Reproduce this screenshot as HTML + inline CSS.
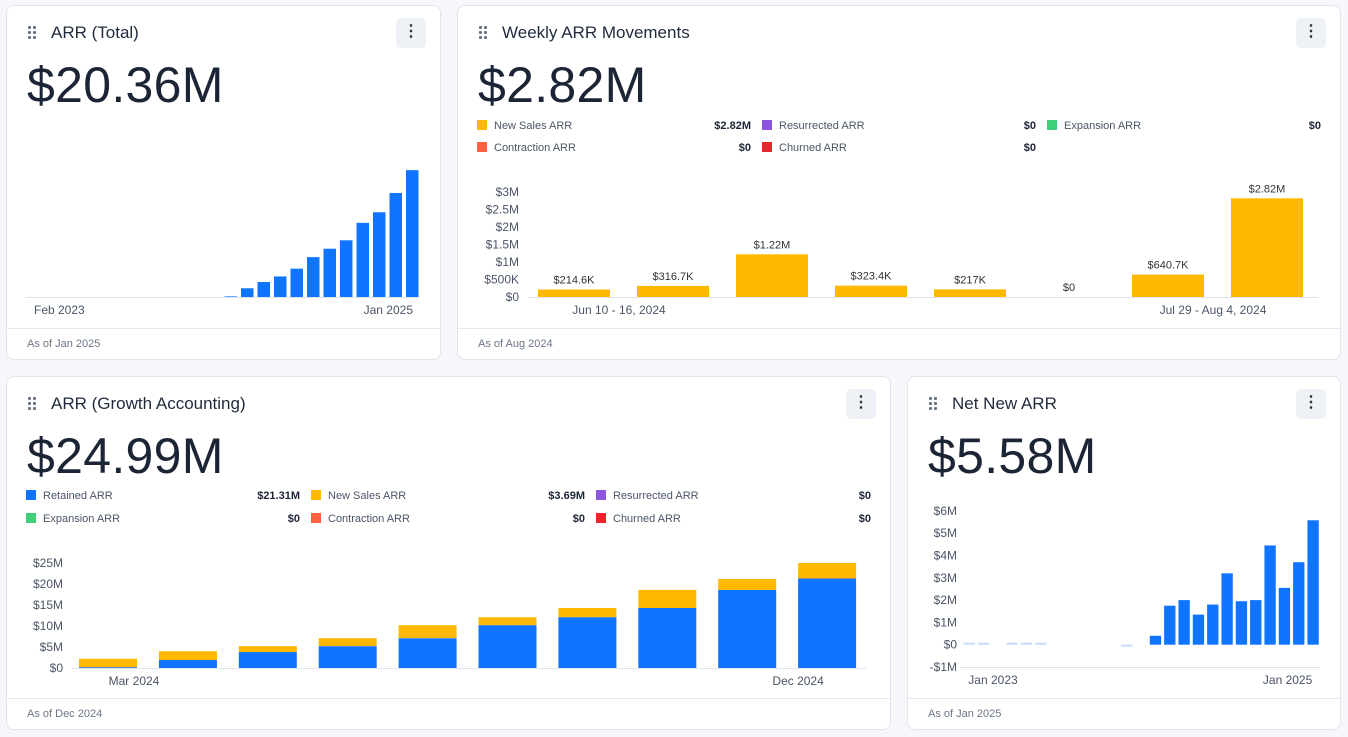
<!DOCTYPE html>
<html><head><meta charset="utf-8">
<style>
body{margin:0;width:1348px;height:737px;background:#f5f7fa;font-family:"Liberation Sans",sans-serif;color:#1c2536;position:relative;overflow:hidden}
.card{position:absolute;background:#fff;border:1px solid #e1e5ea;border-radius:8px;box-sizing:border-box}
.title{position:absolute;left:44px;top:17px;font-size:17px;color:#1f2a3c}
.grip{position:absolute;left:20px;top:19px;width:10px;height:14px;background:radial-gradient(circle,#6b7686 1.5px,transparent 1.8px) 0 0/5px 5px}
.big{position:absolute;left:20px;top:50px;font-size:50px;color:#1c2536;letter-spacing:0.3px}
.menu{position:absolute;top:12px;width:30px;height:30px;background:#eef1f5;border-radius:5px;text-align:center;line-height:28px;font-size:16px;font-weight:bold;color:#333}
.foot{position:absolute;left:0;right:0;bottom:0;height:31px;border-top:1px solid #e5e8ec;font-size:11px;color:#6b7686;padding:9px 0 0 20px;box-sizing:border-box}
.leg{position:absolute;font-size:11px;color:#4a5566}
.leg i{display:inline-block;width:10px;height:10px;margin-right:7px;vertical-align:-1px}
.lv{position:absolute;font-size:11px;font-weight:bold;color:#1c2536;text-align:right;width:60px}
svg{position:absolute;left:0;top:0}
svg text{font-family:"Liberation Sans",sans-serif;font-size:12px;fill:#4a5566}
</style></head><body>
<div class="card" style="left:6px;top:5px;width:435px;height:355px">
<div class="grip"></div><div class="title">ARR (Total)</div>
<div class="menu" style="left:389px">⋮</div>
<div class="big">$20.36M</div>
<div class="foot">As of Jan 2025</div></div>

<div class="card" style="left:457px;top:5px;width:884px;height:355px">
<div class="grip"></div><div class="title">Weekly ARR Movements</div>
<div class="menu" style="left:838px">⋮</div>
<div class="big">$2.82M</div>
<div class="leg" style="left:19px;top:114px"><i style="background:#ffb800"></i>New Sales ARR</div><div class="lv" style="left:233px;top:114px">$2.82M</div>
<div class="leg" style="left:304px;top:114px"><i style="background:#8b55e0"></i>Resurrected ARR</div><div class="lv" style="left:518px;top:114px">$0</div>
<div class="leg" style="left:589px;top:114px"><i style="background:#3fd07a"></i>Expansion ARR</div><div class="lv" style="left:803px;top:114px">$0</div>
<div class="leg" style="left:19px;top:136px"><i style="background:#ff6240"></i>Contraction ARR</div><div class="lv" style="left:233px;top:136px">$0</div>
<div class="leg" style="left:304px;top:136px"><i style="background:#e8262b"></i>Churned ARR</div><div class="lv" style="left:518px;top:136px">$0</div>
<div class="foot">As of Aug 2024</div></div>

<div class="card" style="left:6px;top:376px;width:885px;height:354px">
<div class="grip"></div><div class="title">ARR (Growth Accounting)</div>
<div class="menu" style="left:839px">⋮</div>
<div class="big">$24.99M</div>
<div class="leg" style="left:19px;top:113px"><i style="background:#0f74ff"></i>Retained ARR</div><div class="lv" style="left:233px;top:113px">$21.31M</div>
<div class="leg" style="left:304px;top:113px"><i style="background:#ffb800"></i>New Sales ARR</div><div class="lv" style="left:518px;top:113px">$3.69M</div>
<div class="leg" style="left:589px;top:113px"><i style="background:#8b55e0"></i>Resurrected ARR</div><div class="lv" style="left:804px;top:113px">$0</div>
<div class="leg" style="left:19px;top:136px"><i style="background:#3fd07a"></i>Expansion ARR</div><div class="lv" style="left:233px;top:136px">$0</div>
<div class="leg" style="left:304px;top:136px"><i style="background:#ff6240"></i>Contraction ARR</div><div class="lv" style="left:518px;top:136px">$0</div>
<div class="leg" style="left:589px;top:136px"><i style="background:#e8262b"></i>Churned ARR</div><div class="lv" style="left:804px;top:136px">$0</div>
<div class="foot">As of Dec 2024</div></div>

<div class="card" style="left:907px;top:376px;width:434px;height:354px">
<div class="grip"></div><div class="title">Net New ARR</div>
<div class="menu" style="left:388px">⋮</div>
<div class="big">$5.58M</div>
<div class="foot">As of Jan 2025</div></div>

<svg id="ch" width="1348" height="737"></svg>
<script>
// ARR total (monthly, Feb 2023 - Jan 2025)
const totalVals=[0,0,0,0,0,0,0,0,0,0,0,0,0.1,1.4,2.4,3.3,4.55,6.4,7.75,9.1,11.9,13.6,16.7,20.36];
const totalTicks=["Feb 2023","Jan 2025"];
// Weekly movements
const weekVals=[0.2146,0.3167,1.22,0.3234,0.217,0,0.6407,2.82];
const weekLabels=["$214.6K","$316.7K","$1.22M","$323.4K","$217K","$0","$640.7K","$2.82M"];
const weekTicks=["$0","$500K","$1M","$1.5M","$2M","$2.5M","$3M"];
const weekTickVals=[0,0.5,1,1.5,2,2.5,3];
const weekXLabels=["Jun 10 - 16, 2024","Jul 29 - Aug 4, 2024"];
// Growth accounting
const gaRetained=[0.2,1.9,3.8,5.2,7.1,10.2,12.1,14.3,18.6,21.31];
const gaNew=[2.0,2.1,1.4,1.9,3.1,1.9,2.2,4.3,2.6,3.69];
const gaTicks=["$0","$5M","$10M","$15M","$20M","$25M"];
const gaTickVals=[0,5,10,15,20,25];
const gaXLabels=["Mar 2024","Dec 2024"];
// Net new ARR (monthly)
const nnVals=[0.05,0.05,0,0.05,0.05,0.05,0,0,0,0,0,-0.03,0,0.4,1.75,2.0,1.35,1.8,3.2,1.95,2.0,4.45,2.55,3.7,5.58];
const nnTicks=["-$1M","$0","$1M","$2M","$3M","$4M","$5M","$6M"];
const nnTickVals=[-1,0,1,2,3,4,5,6];
const nnXLabels=["Jan 2023","Jan 2025"];

const S=document.getElementById('ch');const NS='http://www.w3.org/2000/svg';
function mk(t,a,txt){const e=document.createElementNS(NS,t);for(const k in a)e.setAttribute(k,a[k]);if(txt!==undefined)e.textContent=txt;S.appendChild(e);return e;}

// Chart 1
{const x0=24.5,w=16.5,y0=297,k=6.23;
const ax=mk('line',{x1:26,x2:420,y1:y0+0.5,y2:y0+0.5,stroke:'#dde3ec'});

totalVals.forEach((v,i)=>{const h=Math.max(v*k,0);const r=mk('rect',{x:x0+i*w+2,y:y0-h,width:w-4,height:h,fill:'#0f74ff'});
});
const t1=mk('text',{x:34,y:314},totalTicks[0]);
const t2=mk('text',{x:413,y:314,'text-anchor':'end'},totalTicks[1]);}

// Chart 2
{const x0=524,w=99,y0=297,k=35;const Y=v=>y0-v*k;
const ax=mk('line',{x1:528,x2:1318,y1:y0+0.5,y2:y0+0.5,stroke:'#dde3ec'});

weekTicks.forEach((t,i)=>{const e=mk('text',{x:519,y:Y(weekTickVals[i])+4,'text-anchor':'end'},t);
});
weekVals.forEach((v,i)=>{const cx=x0+i*w+50;const r=mk('rect',{x:cx-36,y:Y(v),width:72,height:v*k,fill:'#ffb800'});

const l=mk('text',{x:cx,y:Y(v)-6,'text-anchor':'middle'},weekLabels[i]);l.setAttribute('style','font-size:11px;fill:#333');
});
[0,6].forEach((s,j)=>{const e=mk('text',{x:x0+s*w+95,y:314,'text-anchor':'middle'},weekXLabels[j]);
});}

// Chart 3
{const x0=68,w=79.9,y0=668,k=4.2;const Y=v=>y0-v*k;
const ax=mk('line',{x1:72,x2:866,y1:y0+0.5,y2:y0+0.5,stroke:'#dde3ec'});

gaTicks.forEach((t,i)=>{const e=mk('text',{x:63,y:Y(gaTickVals[i])+4,'text-anchor':'end'},t);
});
gaRetained.forEach((v,i)=>{const cx=x0+i*w+40;
const r=mk('rect',{x:cx-29,y:Y(v),width:58,height:v*k,fill:'#0f74ff'});

const n=gaNew[i];const r2=mk('rect',{x:cx-29,y:Y(v+n),width:58,height:n*k,fill:'#ffb800'});
});
[0,9].forEach((s,j)=>{const e=mk('text',{x:x0+s*w+(j?11:66),y:685,'text-anchor':'middle'},gaXLabels[j]);
});}

// Chart 4
{const x0=962,w=14.33,y0=644.7,k=22.3;const Y=v=>y0-v*k;
const ax=mk('line',{x1:960,x2:1320,y1:Y(-1)+0.5,y2:Y(-1)+0.5,stroke:'#dde3ec'});

nnTicks.forEach((t,i)=>{const e=mk('text',{x:957,y:Y(nnTickVals[i])+4,'text-anchor':'end'},t);
});
nnVals.forEach((v,i)=>{if(v===0)return;const faint=Math.abs(v)<0.1;const h=Math.max(Math.abs(v)*k,2);
const r=mk('rect',{x:x0+i*w+1.5,y:v>0?y0-h:y0,width:w-3,height:h,fill:faint?'#c9dcfb':'#0f74ff'});
});
[0,23].forEach((s,j)=>{const e=mk('text',{x:x0+s*w+(j?-4:31),y:684,'text-anchor':'middle'},nnXLabels[j]);
});}
</script>
</body></html>
